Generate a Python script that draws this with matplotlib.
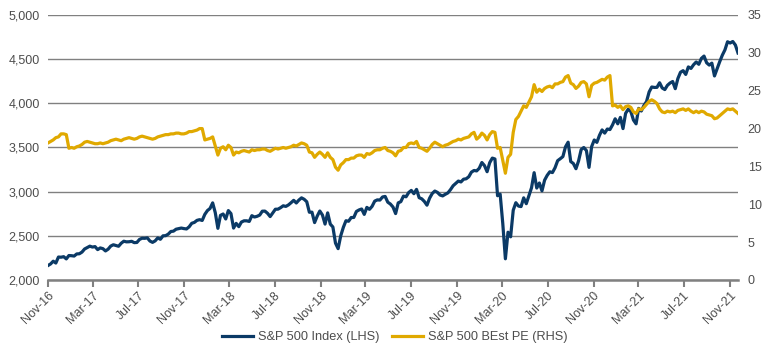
import numpy as np
import pandas as pd
import matplotlib
matplotlib.use('Agg')
import matplotlib.pyplot as plt
import matplotlib.ticker as mticker

plt.rcParams['font.family'] = ['Liberation Sans', 'DejaVu Sans']

# weekly points (Fridays)
week_start = '2016-11-11'
week_end = '2021-12-03'

spx = [
    # 2016
    2164, 2182, 2213, 2192, 2260, 2258, 2264, 2239,
    # 2017
    2277, 2275, 2271, 2295, 2297, 2316, 2351, 2367, 2383, 2373, 2378, 2344, 2363,
    2355, 2329, 2349, 2384, 2399, 2391, 2382, 2416, 2439, 2432, 2433, 2438, 2423,
    2425, 2459, 2473, 2472, 2477, 2441, 2426, 2443, 2477, 2461, 2500, 2502, 2519,
    2549, 2553, 2575, 2581, 2588, 2582, 2578, 2602, 2642, 2652, 2675, 2683, 2674,
    # 2018
    2743, 2786, 2810, 2873, 2762, 2585, 2732, 2747, 2691, 2786, 2752, 2588, 2641,
    2604, 2656, 2670, 2670, 2663, 2728, 2713, 2721, 2735, 2779, 2780, 2755, 2718,
    2760, 2801, 2802, 2819, 2840, 2833, 2850, 2875, 2902, 2872, 2905, 2930, 2914,
    2886, 2767, 2768, 2650, 2723, 2781, 2736, 2633, 2760, 2633, 2600, 2417, 2355,
    # 2019
    2500, 2596, 2671, 2665, 2707, 2708, 2776, 2793, 2804, 2743, 2822, 2800, 2834,
    2893, 2907, 2905, 2940, 2946, 2881, 2860, 2826, 2752, 2873, 2887, 2950, 2942,
    2990, 3014, 2977, 3026, 2932, 2919, 2889, 2847, 2926, 2979, 3007, 2992, 2962,
    2952, 2970, 2986, 3023, 3067, 3093, 3120, 3110, 3141, 3146, 3169, 3221, 3240,
    # 2020
    3235, 3265, 3330, 3295, 3226, 3328, 3380, 3370, 2954, 2972, 2640, 2240, 2541,
    2489, 2790, 2875, 2837, 2831, 2930, 2864, 2955, 3044, 3215, 3041, 3098, 3009,
    3130, 3185, 3225, 3216, 3271, 3351, 3373, 3397, 3508, 3560, 3341, 3319, 3260,
    3348, 3477, 3500, 3465, 3275, 3510, 3585, 3558, 3638, 3699, 3663, 3709, 3703,
    # 2021
    3756, 3825, 3768, 3841, 3714, 3887, 3934, 3907, 3811, 3768, 3943, 3913, 3975,
    4020, 4129, 4185, 4180, 4181, 4233, 4174, 4156, 4204, 4230, 4247, 4166, 4281,
    4352, 4370, 4327, 4412, 4395, 4437, 4468, 4442, 4509, 4535, 4459, 4433, 4455,
    4310, 4391, 4471, 4545, 4605, 4697, 4683, 4700, 4660, 4570,
]

best_pe = [
    # 2016
    18.1, 18.3, 18.5, 18.8, 18.9, 19.3, 19.3, 19.2,
    # 2017
    17.4, 17.5, 17.4, 17.6, 17.7, 17.9, 18.2, 18.3, 18.2, 18.1, 18.0, 18.0, 18.1,
    18.0, 18.1, 18.2, 18.4, 18.5, 18.6, 18.5, 18.4, 18.6, 18.7, 18.8, 18.7, 18.6,
    18.7, 18.9, 19.0, 18.9, 18.8, 18.7, 18.6, 18.7, 18.9, 19.0, 19.1, 19.2, 19.2,
    19.3, 19.3, 19.4, 19.4, 19.3, 19.3, 19.4, 19.6, 19.6, 19.7, 19.8, 20.0, 20.0,
    # 2018
    18.5, 18.6, 18.7, 18.9, 17.7, 16.5, 17.4, 17.6, 17.2, 17.8, 17.5, 16.5, 16.9,
    16.8, 17.0, 17.1, 17.0, 16.9, 17.2, 17.1, 17.2, 17.2, 17.3, 17.3, 17.1, 17.0,
    17.2, 17.4, 17.3, 17.4, 17.5, 17.4, 17.5, 17.6, 17.8, 17.7, 17.9, 18.1, 18.0,
    17.8, 16.9, 16.8, 16.2, 16.6, 16.9, 16.6, 16.2, 16.8, 16.2, 15.9, 14.9, 14.5,
    # 2019
    15.2, 15.5, 15.9, 15.9, 16.1, 16.1, 16.4, 16.5, 16.5, 16.2, 16.7, 16.6, 16.8,
    17.1, 17.2, 17.2, 17.4, 17.5, 17.1, 17.0, 16.8, 16.4, 17.0, 17.1, 17.5, 17.5,
    18.0, 18.1, 18.0, 18.3, 17.5, 17.4, 17.2, 17.0, 17.4, 17.9, 18.2, 18.0, 17.8,
    17.6, 17.8, 17.9, 18.1, 18.3, 18.4, 18.6, 18.5, 18.7, 18.8, 18.9, 19.3, 19.5,
    # 2020
    18.6, 18.9, 19.4, 19.1, 18.5, 19.2, 19.6, 19.5, 17.4, 17.5, 15.8, 14.1, 16.2,
    16.6, 19.5, 21.2, 21.6, 22.3, 23.0, 22.8, 23.5, 24.2, 25.8, 24.8, 25.2, 24.9,
    25.3, 25.5, 25.6, 25.4, 25.9, 25.9, 26.1, 26.2, 26.8, 27.0, 26.0, 25.8, 25.3,
    25.6, 26.1, 26.2, 25.9, 24.2, 25.7, 26.0, 26.1, 26.3, 26.5, 26.4, 26.8, 27.0,
    # 2021
    23.0, 23.1, 22.8, 23.0, 22.5, 22.9, 23.0, 22.8, 22.2, 22.0, 22.6, 22.5, 22.8,
    23.2, 23.6, 23.8, 23.6, 23.3, 22.6, 22.2, 22.1, 22.3, 22.2, 22.3, 22.1, 22.4,
    22.5, 22.6, 22.4, 22.6, 22.3, 22.1, 22.3, 22.1, 22.3, 22.2, 21.9, 21.8, 21.7,
    21.3, 21.4, 21.7, 22.0, 22.3, 22.6, 22.5, 22.6, 22.3, 22.0,
]

tick_labels = ['Nov-16', 'Mar-17', 'Jul-17', 'Nov-17', 'Mar-18', 'Jul-18', 'Nov-18', 'Mar-19',
               'Jul-19', 'Nov-19', 'Mar-20', 'Jul-20', 'Nov-20', 'Mar-21', 'Jul-21', 'Nov-21']

navy = '#0b3a66'
gold = '#e0a900'
grey = '#808080'
text_col = '#4d4d4d'

dates = pd.date_range(week_start, week_end, freq='W-FRI')
df = pd.DataFrame({'spx': spx, 'pe': best_pe}, index=dates)

fig = plt.figure(figsize=(7.70, 3.49), dpi=100)
ax = fig.add_axes([48 / 770, 1 - 280 / 349, 690 / 770, 265 / 349])
ax2 = ax.twinx()

ax.plot(df.index, df['spx'], color=navy, lw=2.3, label='S&P 500 Index (LHS)')
ax2.plot(df.index, df['pe'], color=gold, lw=2.3, label='S&P 500 BEst PE (RHS)')

ax.set_xlim(df.index[0], df.index[-1])
ax.set_ylim(2000, 5000)
ax2.set_ylim(0, 35)
ax.set_yticks(np.arange(2000, 5001, 500))
ax2.set_yticks(np.arange(0, 36, 5))
ax.yaxis.set_major_formatter(mticker.FuncFormatter(lambda v, p: '{:,.0f}'.format(v)))

ax.grid(axis='y', color=grey, lw=1.0)
ax.set_axisbelow(True)

tick_pos = [pd.Timestamp(week_start) + pd.DateOffset(months=4 * k) for k in range(len(tick_labels))]
ax.set_xticks(tick_pos)
ax.set_xticklabels(tick_labels, rotation=45, ha='right', rotation_mode='anchor')

for a in (ax, ax2):
    for s in ('top', 'left', 'right', 'bottom'):
        a.spines[s].set_visible(False)
ax.spines['bottom'].set_visible(True)
ax.spines['bottom'].set_color(grey)
ax.spines['bottom'].set_linewidth(1.8)

ax.tick_params(axis='x', colors=grey, length=5, width=1.5, labelsize=9, labelcolor=text_col, pad=2)
ax.tick_params(axis='y', length=0, labelsize=9, labelcolor=text_col, pad=6)
ax2.tick_params(axis='y', length=0, labelsize=9, labelcolor=text_col, pad=7)

h1, l1 = ax.get_legend_handles_labels()
h2, l2 = ax2.get_legend_handles_labels()
fig.legend(h1 + h2, l1 + l2, loc='center', bbox_to_anchor=(0.513, 0.033), ncol=2,
           frameon=False, fontsize=9.2, handlelength=2.4, columnspacing=1.0,
           labelcolor=text_col, handletextpad=0.4)

fig.savefig('out.png', dpi=100)
